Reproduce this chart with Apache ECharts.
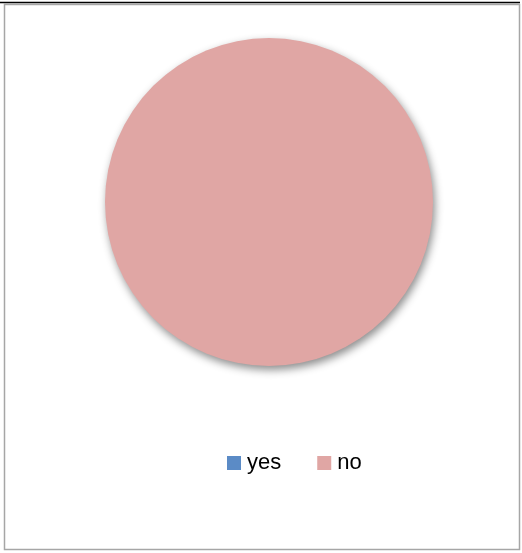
<!DOCTYPE html>
<html>
<head>
<meta charset="utf-8">
<style>
  html, body { margin: 0; padding: 0; background: #fff; }
  #chart { width: 522px; height: 553px; }
</style>
<script src="https://cdn.jsdelivr.net/npm/echarts@6/dist/echarts.min.js"></script>
</head>
<body>
<div id="chart"></div>
<script>
// Answer categories and their counts
const categories = ['yes', 'no'];
const values = [0, 100];
const colors = ['#5B8BC6', '#E0A6A4'];

const chart = echarts.init(document.getElementById('chart'), null, { renderer: 'canvas' });

chart.setOption({
  animation: false,
  color: colors,
  graphic: [
    // outer frame
    { type: 'rect', shape: { x: 4.5, y: 4.5, width: 515, height: 545 },
      style: { fill: 'none', stroke: '#a6a6a6', lineWidth: 1.5 } },
    { type: 'line', shape: { x1: 0, y1: 2.5, x2: 520, y2: 2.5 },
      style: { stroke: '#000', lineWidth: 1.5 } }
  ],
  legend: {
    data: categories,
    left: 222,
    top: 447,
    itemWidth: 14,
    itemHeight: 14,
    itemGap: 36,
    icon: 'rect',
    textStyle: {
      fontFamily: 'Liberation Sans',
      fontSize: 22,
      color: '#000',
      padding: [5, 0, 0, 1]
    }
  },
  series: [{
    type: 'pie',
    center: [269, 202],
    radius: 164,
    startAngle: 90,
    label: { show: false },
    labelLine: { show: false },
    emphasis: { disabled: true },
    itemStyle: {
      shadowColor: 'rgba(0,0,0,0.45)',
      shadowBlur: 8,
      shadowOffsetX: 2,
      shadowOffsetY: 4
    },
    data: categories.map((c, i) => ({ name: c, value: values[i] }))
  }]
});
</script>
</body>
</html>
